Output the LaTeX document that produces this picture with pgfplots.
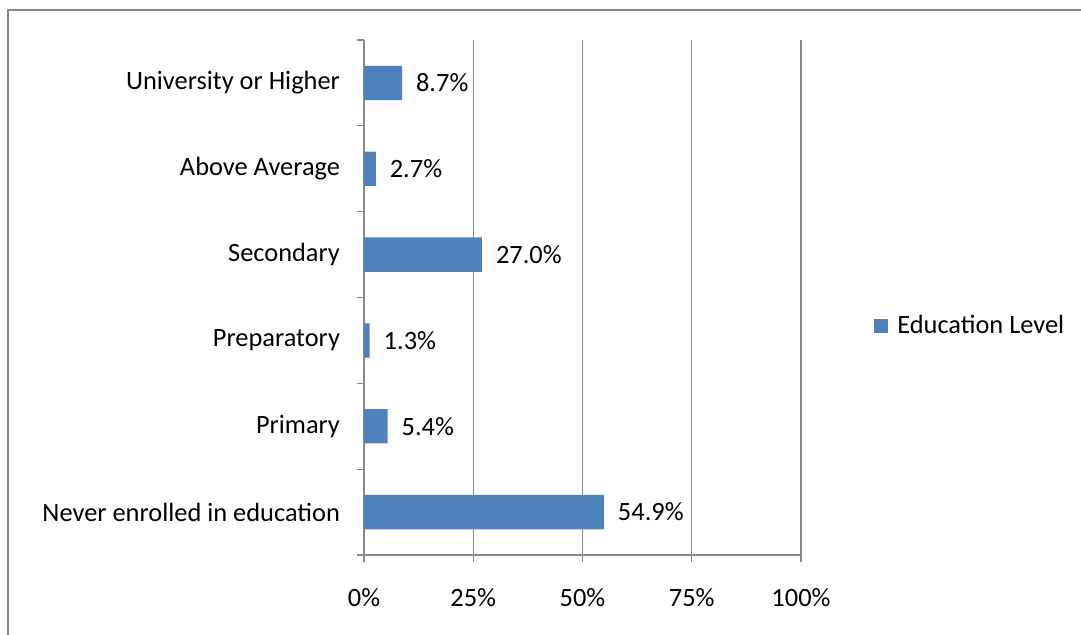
\documentclass[border=0pt]{standalone}
\usepackage{pgfplots}
\pgfplotsset{compat=1.18}
\usepackage{fontspec}
\setmainfont{Carlito}
\definecolor{barblue}{HTML}{4F81BD}
\definecolor{axgray}{HTML}{888888}
\newcommand{\lbl}{\fontsize{13.2pt}{15pt}\selectfont}
\begin{document}
\begin{tikzpicture}
% picture frame: 1px = 0.5pt
\useasboundingbox (0,0) rectangle (540.5pt,-317.5pt);
\draw[axgray, line width=1pt] (4pt,-317.5pt) -- (4pt,-5pt) -- (540.5pt,-5pt);
\begin{axis}[
    at={(182pt,-277.5pt)}, anchor=south west,
    scale only axis,
    width=218.5pt, height=257.5pt,
    xbar, bar width=0.4,
    xmin=0, xmax=100,
    ymin=-0.5, ymax=5.5,
    axis lines*=left,
    axis line style={axgray, line width=0.6pt},
    xtick={0,25,50,75,100},
    xticklabels={0\%,25\%,50\%,75\%,100\%},
    xmajorgrids,
    grid style={axgray, line width=0.6pt},
    ytick={-0.5,0.5,...,5.5},
    yticklabels={},
    extra y ticks={0,1,2,3,4,5},
    extra y tick labels={Never enrolled in education,Primary,Preparatory,Secondary,Above Average,University or Higher},
    extra y tick style={major tick length=0pt, grid=none},
    tick align=outside,
    major tick length=3.5pt,
    tick style={axgray, line width=0.6pt},
    tick label style={font=\lbl, text=black},
    yticklabel style={xshift=-8.5pt},
    xticklabel style={yshift=-9.5pt},
    nodes near coords={\pgfmathprintnumber[fixed,fixed zerofill,precision=1,assume math mode=true]{\pgfplotspointmeta}\%},
    nodes near coords style={font=\lbl, text=black, anchor=west, xshift=3.5pt},
    legend style={at={(1.153,0.445)}, anchor=west, draw=none, font=\lbl, fill=none},
    legend image code/.code={\fill[barblue] (0pt,-3.5pt) rectangle (7pt,3.5pt); \path (9.5pt,0pt);},
]
\addplot[fill=barblue, draw=none] coordinates {
(54.9,0) (5.4,1) (1.3,2) (27.0,3) (2.7,4) (8.7,5)
};
\addlegendentry{Education Level}
\end{axis}
\end{tikzpicture}
\end{document}
